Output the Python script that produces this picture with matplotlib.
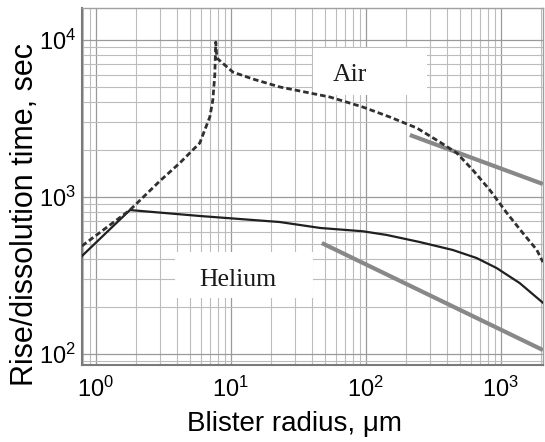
import matplotlib
matplotlib.use("Agg")
import matplotlib.pyplot as plt
from matplotlib.patches import Rectangle

plt.rcParams['font.family'] = ['Liberation Sans', 'DejaVu Sans']
plt.rcParams['mathtext.fontset'] = 'custom'
plt.rcParams['mathtext.rm'] = 'Liberation Sans'
plt.rcParams['mathtext.it'] = 'Liberation Sans:italic'
plt.rcParams['mathtext.bf'] = 'Liberation Sans:bold'

# ---- data ----
helium_r = [0.79, 1.79, 5.9, 23, 46, 95, 143, 250, 440, 660, 930, 1380, 2050]
helium_t = [421, 826, 757, 693, 635, 605, 573, 517, 460, 409, 353, 283, 212]

air_r = [0.79, 1.79, 2.98, 4.19, 5.89, 6.99, 7.36, 7.61, 7.74, 7.88, 10.35,
         14.55, 23.1, 54.1, 95.0, 150.6, 238.7, 353, 472, 620, 829,
         1108, 1455, 1848, 2050]
air_t = [488, 826, 1264, 1647, 2208, 3233, 4150, 5985, 9700, 7675, 6250,
         5645, 5020, 4335, 3742, 3233, 2751, 2240, 1906, 1486, 1108,
         791, 590, 460, 385]

slope1_r = [212, 2050]
slope1_t = [2484, 1210]
slope2_r = [47.2, 2050]
slope2_t = [509, 106]

xticks = [1, 10, 100, 1000]
xticklabels = [r'$10^{0}$', r'$10^{1}$', r'$10^{2}$', r'$10^{3}$']
yticks = [100, 1000, 10000]
yticklabels = [r'$10^{2}$', r'$10^{3}$', r'$10^{4}$']

labels = ['Air', 'Helium']

# ---- figure ----
fig = plt.figure(figsize=(5.45, 4.42), dpi=100)
ax = fig.add_axes([0.150, 0.174, 0.846, 0.808])
ax.set_xscale('log')
ax.set_yscale('log')
ax.set_xlim(0.787, 2047)
ax.set_ylim(85, 16000)

ax.grid(True, which='major', color='#9a9a9a', lw=0.9, zorder=0)
ax.grid(True, which='minor', color='#bcbcbc', lw=0.8, zorder=0)
ax.set_axisbelow(True)

ax.set_xticks(xticks)
ax.set_xticklabels(xticklabels)
ax.set_yticks(yticks)
ax.set_yticklabels(yticklabels)
ax.tick_params(which='both', length=0, labelsize=17)
ax.tick_params(axis='x', pad=8)
ax.tick_params(axis='y', pad=4)

for s in ax.spines.values():
    s.set_color('#a0a0a0')
    s.set_linewidth(1.0)
ax.spines['left'].set_color('#7a7a7a')
ax.spines['left'].set_linewidth(1.5)
ax.spines['bottom'].set_color('#7a7a7a')
ax.spines['bottom'].set_linewidth(1.5)

# white label boxes
ax.add_patch(Rectangle((0.501, 0.756), 0.247, 0.132, transform=ax.transAxes,
                       facecolor='white', edgecolor='none', zorder=1))
ax.add_patch(Rectangle((0.202, 0.188), 0.299, 0.129, transform=ax.transAxes,
                       facecolor='white', edgecolor='none', zorder=1))
ax.text(0.581, 0.812, labels[0], transform=ax.transAxes, ha='center', va='center',
        family='Liberation Serif', fontsize=18.5, color='#1a1a1a', zorder=2)
ax.text(0.338, 0.238, labels[1], transform=ax.transAxes, ha='center', va='center',
        family='Liberation Serif', fontsize=18.5, color='#1a1a1a', zorder=2)

# curves
ax.plot(slope1_r, slope1_t, color='#888888', lw=3.0, solid_capstyle='butt', zorder=3)
ax.plot(slope2_r, slope2_t, color='#888888', lw=3.0, solid_capstyle='butt', zorder=3)
ax.plot(helium_r, helium_t, color='#202020', lw=1.6, zorder=4)
ax.plot(air_r, air_t, color='#303030', lw=2.0, ls=(0, (2.0, 1.1)), zorder=4)

fig.text(0.0606, 0.5136, 'Rise/dissolution time, sec', rotation=90,
         rotation_mode='anchor', ha='center', va='baseline', fontsize=22)
fig.text(0.541, 0.0249, 'Blister radius, μm', ha='center', va='baseline',
         fontsize=20)

fig.savefig('out.png', dpi=100)
